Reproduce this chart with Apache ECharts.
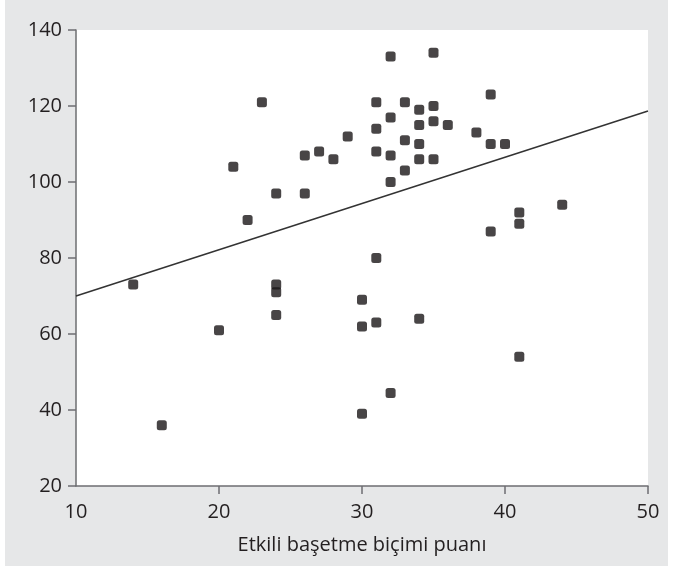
<!DOCTYPE html>
<html>
<head>
<meta charset="utf-8">
<script src="https://cdn.jsdelivr.net/npm/echarts@6/dist/echarts.min.js"></script>
<style>
  html, body { margin: 0; padding: 0; background: #fff; }
  #wrap { position: relative; width: 674px; height: 572px; }
  #panel { position: absolute; left: 5px; top: 0; width: 663px; height: 566px; background: #e6e7e8; }
  #chart { position: absolute; left: 0; top: 0; width: 674px; height: 572px; }
</style>
</head>
<body>
<div id="wrap">
  <div id="panel"></div>
  <div id="chart"></div>
</div>
<script>
// x: Etkili başetme biçimi puanı, y: score
const xValues = [14, 16, 20, 21, 22, 23, 24, 24, 24, 24, 26, 26, 27, 28, 29,
  30, 30, 30, 31, 31, 31, 31, 31, 32, 32, 32, 32, 32, 33, 33, 33,
  34, 34, 34, 34, 34, 35, 35, 35, 35, 36, 38, 39, 39, 39, 40, 41, 41, 41, 44]
const yValues = [73, 36, 61, 104, 90, 121, 97, 73, 71, 65, 107, 97, 108, 106, 112,
  69, 62, 39, 121, 114, 108, 80, 63, 133, 117, 107, 100, 44.5, 121, 111, 103,
  119, 115, 110, 106, 64, 134, 120, 116, 106, 115, 113, 123, 110, 87, 110, 92, 89, 54, 94]
// fitted line end points
const lineX = [10, 50]
const lineY = [70, 118.7]
const xTicks = [20, 30, 40, 50]

const textColor = '#231f20'
const axisColor = '#6d6e71'
const font = 'Open Sans'

const chart = echarts.init(document.getElementById('chart'))

chart.setOption({
  backgroundColor: 'transparent',
  animation: false,
  grid: {
    left: 76,
    right: 26,
    top: 30,
    bottom: 86,
    show: true,
    backgroundColor: '#ffffff',
    borderWidth: 0
  },
  xAxis: {
    type: 'value',
    min: 10,
    max: 50,
    interval: 10,
    name: 'Etkili başetme biçimi puanı',
    nameLocation: 'middle',
    nameGap: 49,
    nameTextStyle: { color: textColor, fontSize: 20, fontFamily: font },
    axisLine: { lineStyle: { color: axisColor, width: 1.5 } },
    axisTick: { length: 8, customValues: xTicks, lineStyle: { color: axisColor, width: 1.5 } },
    axisLabel: { margin: 16, color: textColor, fontSize: 20, fontFamily: font },
    splitLine: { show: false }
  },
  yAxis: {
    type: 'value',
    min: 20,
    max: 140,
    interval: 20,
    axisLine: { show: true, lineStyle: { color: axisColor, width: 1.5 } },
    axisTick: { show: true, length: 8, lineStyle: { color: axisColor, width: 1.5 } },
    axisLabel: { margin: 14, color: textColor, fontSize: 20, fontFamily: font },
    splitLine: { show: false }
  },
  series: [
    {
      type: 'line',
      data: lineX.map((x, i) => [x, lineY[i]]),
      symbol: 'none',
      lineStyle: { color: '#333333', width: 1.5 },
      z: 1
    },
    {
      type: 'scatter',
      data: xValues.map((x, i) => [x, yValues[i]]),
      symbol: 'roundRect',
      symbolSize: 10,
      itemStyle: { color: '#1a1718' },
      z: 2
    }
  ]
})
</script>
</body>
</html>
